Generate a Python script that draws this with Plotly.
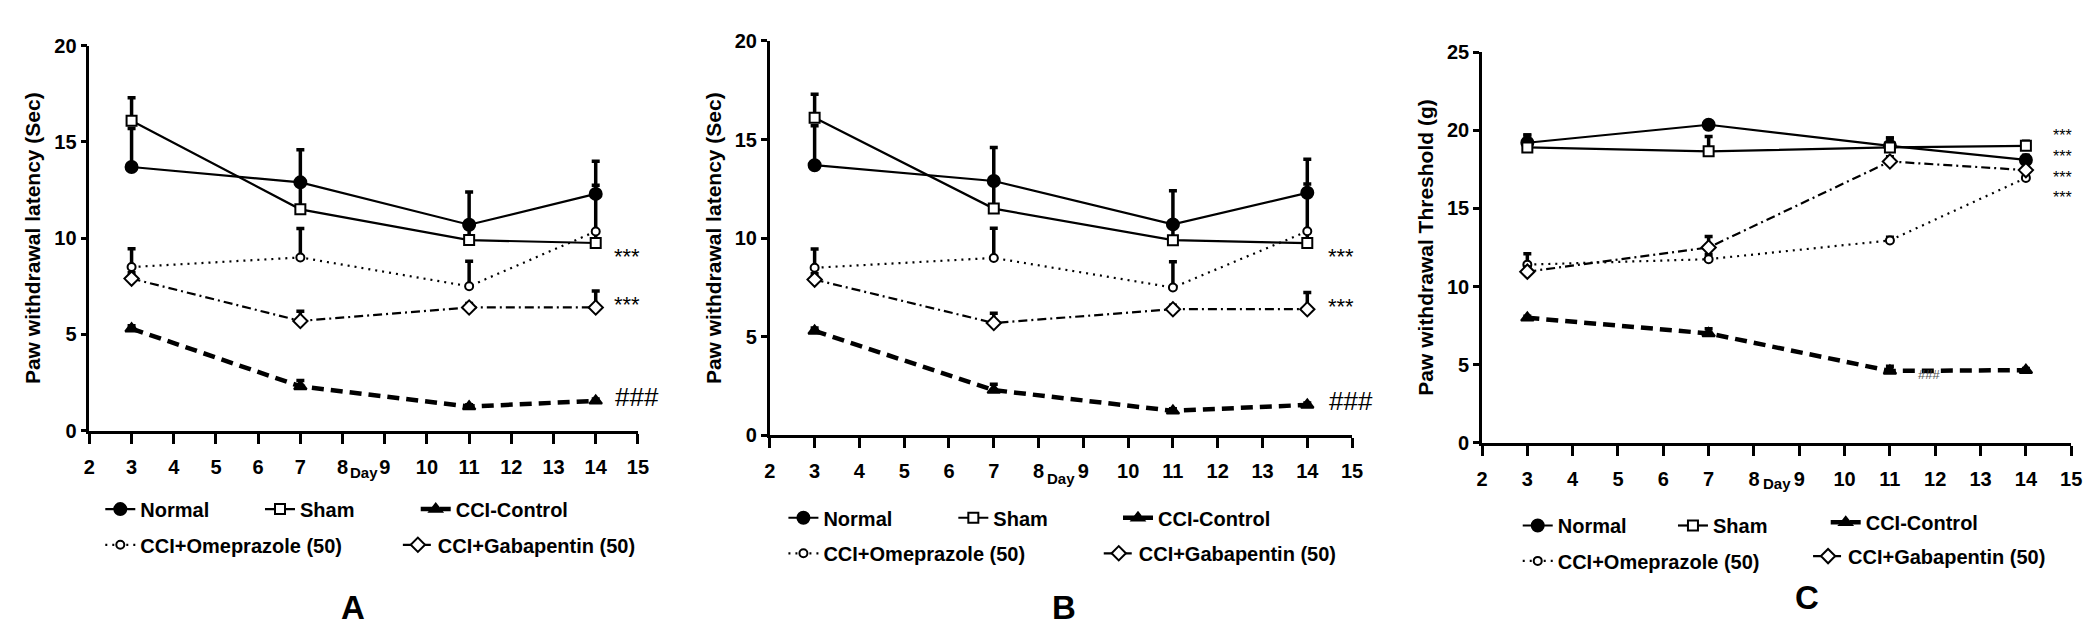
import plotly.graph_objects as go

W, H = 2100, 624

# ---------------- data ----------------
days = [3, 7, 11, 14]
day_ticks = list(range(2, 16))
series_names = ["Normal", "Sham", "CCI-Control", "CCI+Omeprazole (50)", "CCI+Gabapentin (50)"]

# Panel A : paw withdrawal latency (Sec)
a_normal = [13.7, 12.9, 10.7, 12.3]
a_normal_err = [2.0, 1.7, 1.7, 1.7]
a_sham = [16.1, 11.5, 9.9, 9.75]
a_sham_err = [1.2, 1.4, 0.8, 0.6]
a_cci = [5.3, 2.3, 1.25, 1.55]
a_cci_err = [0.15, 0.3, 0.1, 0.1]
a_omep = [8.5, 9.0, 7.5, 10.35]
a_omep_err = [0.95, 1.5, 1.3, 2.4]
a_gaba = [7.9, 5.7, 6.4, 6.4]
a_gaba_err = [0.3, 0.5, 0.2, 0.85]

# Panel B : paw withdrawal latency (Sec)
b_normal = [13.7, 12.9, 10.7, 12.3]
b_normal_err = [2.0, 1.7, 1.7, 1.7]
b_sham = [16.1, 11.5, 9.9, 9.75]
b_sham_err = [1.2, 1.4, 0.8, 0.6]
b_cci = [5.3, 2.3, 1.25, 1.55]
b_cci_err = [0.15, 0.3, 0.1, 0.1]
b_omep = [8.5, 9.0, 7.5, 10.35]
b_omep_err = [0.95, 1.5, 1.3, 2.4]
b_gaba = [7.9, 5.7, 6.4, 6.4]
b_gaba_err = [0.3, 0.5, 0.2, 0.85]

# Panel C : paw withdrawal threshold (g)
c_normal = [19.2, 20.35, 19.0, 18.1]
c_normal_err = [0.5, 0.2, 0.5, 0.3]
c_sham = [18.9, 18.65, 18.9, 19.0]
c_sham_err = [0.8, 0.95, 0.6, 0.3]
c_cci = [8.0, 7.0, 4.6, 4.65]
c_cci_err = [0.1, 0.3, 0.3, 0.1]
c_omep = [11.4, 11.75, 12.95, 16.95]
c_omep_err = [0.7, 0.3, 0.2, 0.3]
c_gaba = [10.95, 12.5, 18.0, 17.45]
c_gaba_err = [0.3, 0.7, 0.3, 0.2]

# significance labels
ab_sig_text = ["***", "***", "###"]
ab_sig_y = [9.3, 6.8, 1.75]
c_sig_text = ["***<br>***<br>***<br>***", "###"]
c_sig_y = [17.95, 4.4]

# ---------------- styles ----------------
ARIAL = "Liberation Sans, Arial, sans-serif"

styles = {
    "Normal": dict(symbol="circle", size=12, fill="black", dash="solid", lw=2.2),
    "Sham": dict(symbol="square", size=10, fill="white", dash="solid", lw=2.2),
    "CCI-Control": dict(symbol="triangle-up", size=11, fill="black", dash="12px,7px", lw=4.5),
    "CCI+Omeprazole (50)": dict(symbol="circle", size=8, fill="white", dash="2px,5px", lw=2.2),
    "CCI+Gabapentin (50)": dict(symbol="diamond", size=11, fill="white", dash="9px,4px,2px,4px", lw=2.2),
}

ab_sig = [(14.75, ab_sig_y[0], ab_sig_text[0], 22, "black", 0, -5),
          (14.75, ab_sig_y[1], ab_sig_text[1], 22, "black", 0, -5),
          (14.9, ab_sig_y[2], ab_sig_text[2], 26, "black", 3, 0)]

panels = [
    dict(label="A", data=[(a_normal, a_normal_err), (a_sham, a_sham_err), (a_cci, a_cci_err),
                          (a_omep, a_omep_err), (a_gaba, a_gaba_err)],
         yr=[0, 20], xdom=(76, 629), ydom=(426.7, 27.7), ytitle="Paw withdrawal latency (Sec)",
         leg=[(127, 508), (288, 508), (445, 508), (127, 545), (427, 545)],
         letter=(341.7, 610), day_y=470, sig=ab_sig),
    dict(label="B", data=[(b_normal, b_normal_err), (b_sham, b_sham_err), (b_cci, b_cci_err),
                          (b_omep, b_omep_err), (b_gaba, b_gaba_err)],
         yr=[0, 20], xdom=(762, 1349), ydom=(431.7, 22.7), ytitle="Paw withdrawal latency (Sec)",
         leg=[(815.7, 517), (987, 517), (1153, 517), (815.7, 553.8), (1133.6, 553.8)],
         letter=(1058.6, 609.6), day_y=476, sig=ab_sig),
    dict(label="C", data=[(c_normal, c_normal_err), (c_sham, c_sham_err), (c_cci, c_cci_err),
                          (c_omep, c_omep_err), (c_gaba, c_gaba_err)],
         yr=[0, 25], xdom=(1480, 2074), ydom=(439.3, 34.3), ytitle="Paw withdrawal Threshold (g)",
         leg=[(1556, 525), (1712.5, 525), (1866.5, 521.7), (1556, 561.7), (1848.7, 556.7)],
         letter=(1808, 600), day_y=481.7,
         sig=[(14.8, c_sig_y[0], c_sig_text[0], 16, "black", 0, -4),
              (11.87, c_sig_y[1], c_sig_text[1], 13, "#555555", 0, 0)]),
]

fig = go.Figure()
layout = {}
annotations = []

for pi, p in enumerate(panels):
    n = "" if pi == 0 else str(pi + 1)
    xa, ya = "x" + n, "y" + n
    for si, name in enumerate(series_names):
        vals, errs = p["data"][si]
        st = styles[name]
        lid = pi * 5 + si + 1
        lname = "legend" if lid == 1 else "legend%d" % lid
        fig.add_trace(go.Scatter(
            x=days, y=vals, mode="lines+markers", name=name,
            xaxis=xa, yaxis=ya, legend=lname, cliponaxis=False,
            line=dict(color="black", width=st["lw"], dash=st["dash"]),
            marker=dict(symbol=st["symbol"], size=st["size"], color=st["fill"],
                        line=dict(color="black", width=2)),
            error_y=dict(type="data", symmetric=False, array=errs, arrayminus=[0] * len(errs),
                         color="black", thickness=3.5, width=4),
        ))
        lx, ly = p["leg"][si]
        layout[lname] = dict(x=(lx - 40) / W, y=1 - ly / H, xanchor="left", yanchor="middle",
                             bgcolor="rgba(0,0,0,0)", borderwidth=0, itemwidth=30,
                             font=dict(family=ARIAL, size=20, color="black", weight="bold"))

    x0, x1 = p["xdom"]
    yb, yt = p["ydom"]
    layout["xaxis" + n] = dict(
        domain=[x0 / W, x1 / W], range=[2, 15], anchor=ya,
        tickmode="array", tickvals=day_ticks, ticktext=[str(d) for d in day_ticks],
        showline=True, linecolor="black", linewidth=3, ticks="outside", ticklen=10,
        tickwidth=2.5, tickcolor="black", showgrid=False, zeroline=False,
        ticklabelstandoff=6,
        tickfont=dict(family=ARIAL, size=20, color="black", weight="bold"),
    )
    layout["yaxis" + n] = dict(
        domain=[1 - yb / H, 1 - yt / H], range=p["yr"], anchor=xa, dtick=5,
        showline=True, linecolor="black", linewidth=2.7, ticks="outside", ticklen=6,
        tickwidth=2.5, tickcolor="black", showgrid=False, zeroline=False,
        tickfont=dict(family=ARIAL, size=20, color="black", weight="bold"),
        title=dict(text=p["ytitle"], standoff=8,
                   font=dict(family=ARIAL, size=21, color="black", weight="bold")),
    )
    annotations.append(dict(xref=xa, yref="paper", x=8.5, y=1 - p["day_y"] / H, text="Day",
                            showarrow=False, xanchor="center", yanchor="middle",
                            font=dict(family=ARIAL, size=15, color="black", weight="bold")))
    lx, ly = p["letter"]
    annotations.append(dict(xref="paper", yref="paper", x=lx / W, y=1 - ly / H, text=p["label"],
                            showarrow=False, xanchor="center", yanchor="middle",
                            font=dict(family=ARIAL, size=33, color="black", weight="bold")))
    for (sx, sy, txt, fs, col, dx, dy) in p["sig"]:
        annotations.append(dict(xref=xa, yref=ya, x=sx, y=sy, text=txt, showarrow=False,
                                xanchor="center", yanchor="middle", xshift=dx, yshift=dy,
                                font=dict(family=ARIAL, size=fs, color=col)))

fig.update_layout(
    width=W, height=H, margin=dict(l=0, r=0, t=0, b=0),
    paper_bgcolor="white", plot_bgcolor="white",
    showlegend=True, annotations=annotations, **layout,
)

fig.write_html("out.html")
